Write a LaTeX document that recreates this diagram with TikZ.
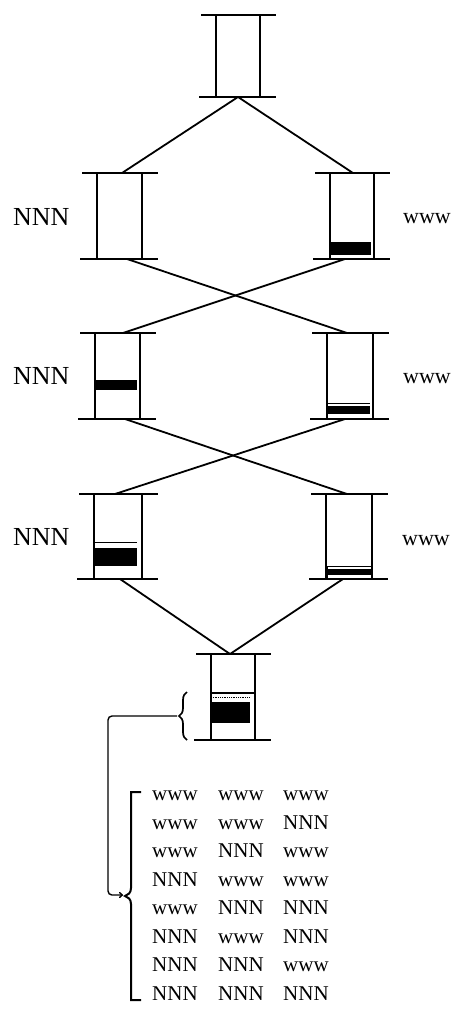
\documentclass[tikz,border=0pt]{standalone}
\usepackage{fontspec}
\setmainfont{Liberation Serif}
\usetikzlibrary{decorations.pathreplacing,arrows.meta}
\newcommand{\tubebars}[1]{%
  \draw[bar] ([xshift=-15pt]#1.north west) -- ([xshift=16pt]#1.north east);
  \draw[bar] ([xshift=-17pt]#1.south west) -- ([xshift=16pt]#1.south east);
  \draw[side] (#1.north west) -- (#1.south west);
  \draw[side] (#1.north east) -- (#1.south east);}
\begin{document}
\begin{tikzpicture}[x=1pt,y=-1pt,
  bar/.style={line width=2.2pt},
  side/.style={line width=1.7pt},
  link/.style={line width=1.8pt},
  thinline/.style={line width=0.8pt},
  tube/.style={draw=none,inner sep=0pt,outer sep=0pt,minimum width=45pt,minimum height=86pt},
  lbl/.style={font=\fontsize{26}{30}\selectfont, anchor=base west, inner sep=0pt},
  wlbl/.style={font=\fontsize{22}{26}\selectfont, anchor=base west, inner sep=0pt},
  cell/.style={font=\fontsize{21}{25}\selectfont, anchor=base west, inner sep=0pt}]
\useasboundingbox (0,0) rectangle (452,1010);
% tubes
\node[tube,minimum width=44pt,minimum height=82pt] (T) at (238,56) {};
\node[tube] (L2) at (119.5,216) {};
\node[tube,minimum width=44pt] (R2) at (352,216) {};
\node[tube] (L3) at (117.5,376) {};
\node[tube,minimum width=46pt] (R3) at (350,376) {};
\node[tube,minimum width=48pt,minimum height=85pt] (L4) at (118,536.5) {};
\node[tube,minimum width=46pt,minimum height=85pt] (R4) at (349,536.5) {};
\node[tube,minimum width=44pt] (B) at (233,697) {};
\tubebars{T}\tubebars{L2}\tubebars{R2}\tubebars{L3}\tubebars{R3}\tubebars{L4}\tubebars{R4}\tubebars{B}
% contents
\fill (330,242) rectangle (371,255);
\fill (95,380) rectangle (137,390);
\draw[thinline] (327,403) -- (370,403);
\fill (327,406) rectangle (370,414);
\draw[thinline] (94,542) -- (137,542);
\fill (94,548) rectangle (137,566);
\draw[thinline] (327,566) rectangle (371,578);
\fill (327,569) rectangle (371,575);
\draw[line width=1.4pt] (211,693) -- (255,693);
\draw[thinline,densely dotted] (211,697) -- (250,697);
\fill (211,702) rectangle (250,723);
% connectors
\draw[link] (T.south) -- ([xshift=2.5pt]L2.north);
\draw[link] (T.south) -- ([xshift=1pt]R2.north);
\draw[link] ([xshift=7.5pt]L2.south) -- ([xshift=-3pt]R3.north);
\draw[link] ([xshift=-7pt]R2.south) -- ([xshift=5.5pt]L3.north);
\draw[link] ([xshift=7.5pt]L3.south) -- ([xshift=-2pt]R4.north);
\draw[link] ([xshift=-5pt]R3.south) -- ([xshift=-3pt]L4.north);
\draw[link] ([xshift=2pt]L4.south) -- ([xshift=-3pt]B.north);
\draw[link] ([xshift=-6pt]R4.south) -- ([xshift=-3pt]B.north);
% labels
\node[lbl] (n2) at (13,225) {NNN};
\node[lbl] (n3) at (13,384) {NNN};
\node[lbl] (n4) at (13,545) {NNN};
\node[wlbl] (w2) at (403,223) {www};
\node[wlbl] (w3) at (403,383) {www};
\node[wlbl] (w4) at (402,545) {www};
% brace and bracket
\draw[decorate,decoration={brace,amplitude=8pt},line width=1.7pt] (187,740) -- (187,692);
\coordinate (bt) at (177,716);
\draw[line width=2pt] (141,792) -- (131,792) -- (131,888)
  .. controls (131,893) and (128,895) .. (125,896)
  .. controls (128,897) and (131,899) .. (131,904) -- (131,1000) -- (141,1000);
\coordinate (bk) at (123,895);
\draw[line width=1.4pt,-{To[length=4pt,width=6pt]},rounded corners=4pt] (bt) -- (108,716) -- (108,895) -- (bk);
% table
\foreach \r/\a/\b/\c [count=\i] in {800.5/www/www/www, 829/www/www/NNN, 857.5/www/NNN/www, 886/NNN/www/www, 914.5/www/NNN/NNN, 943/NNN/www/NNN, 971.5/NNN/NNN/www, 1000/NNN/NNN/NNN}{
  \node[cell] (c\i a) at (152,\r) {\a};
  \node[cell] (c\i b) at (218,\r) {\b};
  \node[cell] (c\i c) at (283,\r) {\c};
}
\end{tikzpicture}
\end{document}
